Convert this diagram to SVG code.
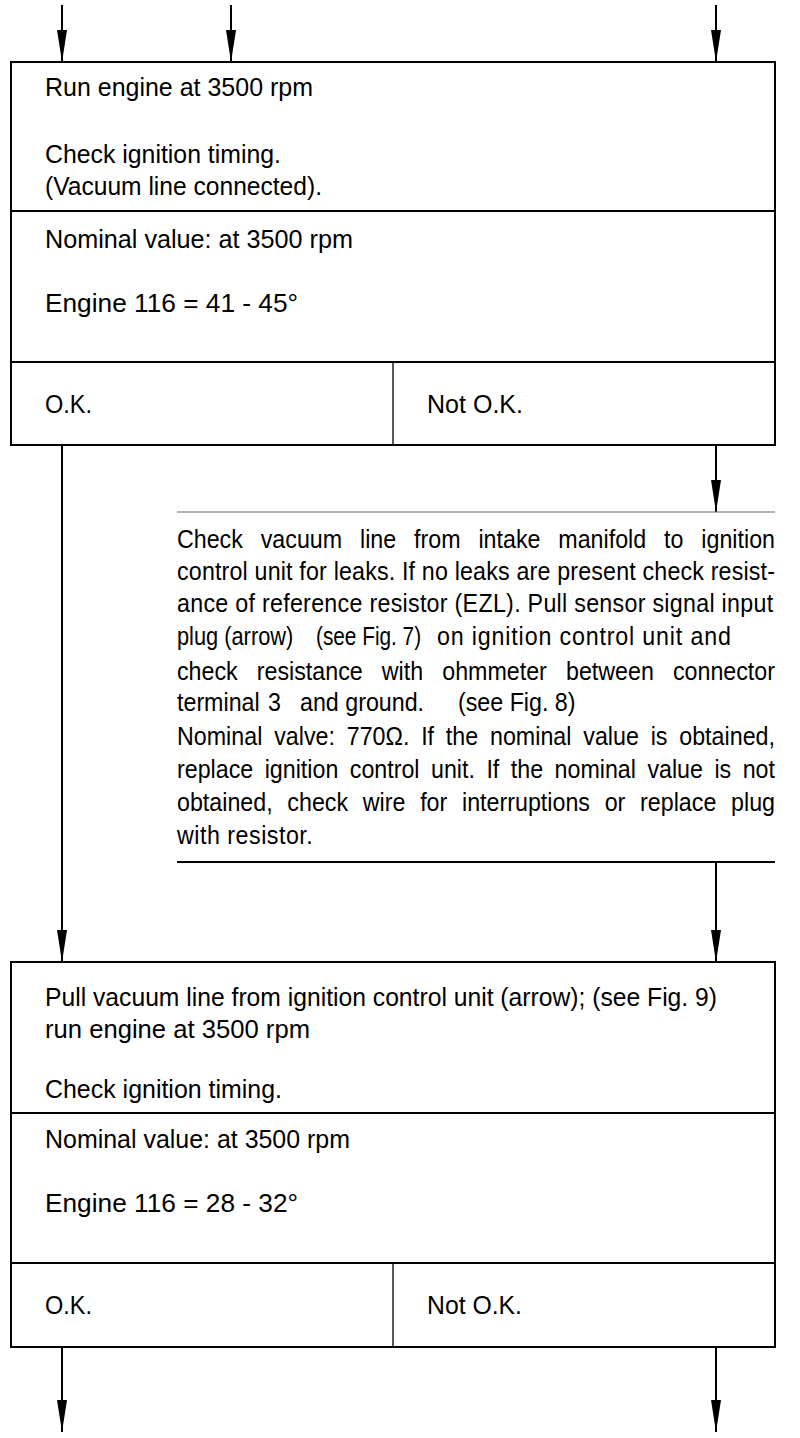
<svg xmlns="http://www.w3.org/2000/svg" width="800" height="1438" viewBox="0 0 800 1438">
<defs>
<marker id="ah" markerUnits="userSpaceOnUse" markerWidth="32" markerHeight="11" refX="32" refY="5.5" orient="auto">
<path d="M0,0.5 L32,5.5 L0,10.5 Z" fill="#000"/>
</marker>
<style>
text{font-family:"Liberation Sans",Arial,Helvetica,sans-serif;font-size:25px;fill:#000}
.box{fill:none;stroke:#000;stroke-width:2}
.div{stroke:#000;stroke-width:2}
.vdiv{stroke:#000;stroke-width:1.3}
.conn{stroke:#000;stroke-width:2;fill:none;marker-end:url(#ah)}
.line{stroke:#000;stroke-width:2}
.faint{stroke:#666;stroke-width:1}
</style>
</defs>
<rect width="800" height="1438" fill="#fff"/>
<g id="connectors">
<line class="conn" x1="62" y1="5" x2="62" y2="62"/>
<line class="conn" x1="231" y1="5" x2="231" y2="62"/>
<line class="conn" x1="716" y1="5" x2="716" y2="62"/>
<line class="conn" x1="62" y1="446" x2="62" y2="962"/>
<line class="conn" x1="716" y1="446" x2="716" y2="512"/>
<line class="conn" x1="716" y1="863" x2="716" y2="962"/>
<line class="conn" x1="62" y1="1347" x2="62" y2="1432"/>
<line class="conn" x1="716" y1="1347" x2="716" y2="1432"/>
</g>
<g id="box1">
<rect class="box" x="11" y="62" width="764" height="383"/>
<line class="div" x1="11" y1="211" x2="775" y2="211"/>
<line class="div" x1="11" y1="362" x2="775" y2="362"/>
<line class="vdiv" x1="393" y1="362" x2="393" y2="445"/>
<text x="45" y="96" textLength="268" lengthAdjust="spacingAndGlyphs">Run engine at 3500 rpm</text>
<text x="45" y="163" textLength="236" lengthAdjust="spacingAndGlyphs">Check ignition timing.</text>
<text x="45" y="195" textLength="277" lengthAdjust="spacingAndGlyphs">(Vacuum line connected).</text>
<text x="45" y="248" textLength="308" lengthAdjust="spacingAndGlyphs">Nominal value:  at 3500 rpm</text>
<text x="45" y="312" textLength="253" lengthAdjust="spacingAndGlyphs">Engine 116 = 41  -  45°</text>
<text x="45" y="413" textLength="47" lengthAdjust="spacingAndGlyphs">O.K.</text>
<text x="427" y="413" textLength="96" lengthAdjust="spacingAndGlyphs">Not O.K.</text>
</g>
<g id="check-text">
<line class="faint" x1="177" y1="512" x2="775" y2="512"/>
<text transform="translate(177,548) scale(0.93,1)" textLength="643" lengthAdjust="spacing" word-spacing="12.3">Check vacuum line from intake manifold to ignition</text>
<text transform="translate(177,580) scale(0.93,1)" textLength="643" lengthAdjust="spacing">control unit for leaks. If no leaks are present check resist-</text>
<text transform="translate(177,612) scale(0.93,1)" textLength="641" lengthAdjust="spacing">ance of reference resistor (EZL). Pull sensor signal input</text>
<text transform="translate(177,645) scale(0.93,1)" textLength="125" lengthAdjust="spacingAndGlyphs">plug (arrow)</text>
<text transform="translate(316,645) scale(0.93,1)" textLength="113" lengthAdjust="spacingAndGlyphs">(see Fig. 7)</text>
<text transform="translate(437,645) scale(0.93,1)" textLength="316" lengthAdjust="spacing">on ignition control unit and</text>
<text transform="translate(177,680) scale(0.93,1)" textLength="643" lengthAdjust="spacing" word-spacing="13.6">check resistance with ohmmeter between connector</text>
<text transform="translate(177,711) scale(0.93,1)">terminal</text>
<text transform="translate(268,711) scale(0.93,1)">3</text>
<text transform="translate(300,711) scale(0.93,1)">and ground.</text>
<text transform="translate(458,711) scale(0.93,1)">(see Fig. 8)</text>
<text transform="translate(177,745) scale(0.93,1)" textLength="643" lengthAdjust="spacing" word-spacing="5.7">Nominal valve: 770Ω. If the nominal value is obtained,</text>
<text transform="translate(177,778) scale(0.93,1)" textLength="643" lengthAdjust="spacing" word-spacing="5.4">replace ignition control unit. If the nominal value is not</text>
<text transform="translate(177,811) scale(0.93,1)" textLength="643" lengthAdjust="spacing" word-spacing="8.9">obtained, check wire for interruptions or replace plug</text>
<text transform="translate(177,844) scale(0.93,1)" textLength="146" lengthAdjust="spacing">with resistor.</text>
<line class="line" x1="177" y1="862" x2="775" y2="862"/>
</g>
<g id="box2">
<rect class="box" x="11" y="962" width="764" height="385"/>
<line class="div" x1="11" y1="1113" x2="775" y2="1113"/>
<line class="div" x1="11" y1="1263" x2="775" y2="1263"/>
<line class="vdiv" x1="393" y1="1263" x2="393" y2="1347"/>
<text x="45" y="1006" textLength="672" lengthAdjust="spacingAndGlyphs">Pull vacuum line from ignition control unit (arrow); (see Fig. 9)</text>
<text x="45" y="1038" textLength="265" lengthAdjust="spacingAndGlyphs">run engine at  3500 rpm</text>
<text x="45" y="1098" textLength="237" lengthAdjust="spacingAndGlyphs">Check ignition timing.</text>
<text x="45" y="1148" textLength="305" lengthAdjust="spacingAndGlyphs">Nominal value: at 3500 rpm</text>
<text x="45" y="1212" textLength="253" lengthAdjust="spacingAndGlyphs">Engine 116 = 28  -  32°</text>
<text x="45" y="1314" textLength="47" lengthAdjust="spacingAndGlyphs">O.K.</text>
<text x="427" y="1314" textLength="95" lengthAdjust="spacingAndGlyphs">Not O.K.</text>
</g>
</svg>
